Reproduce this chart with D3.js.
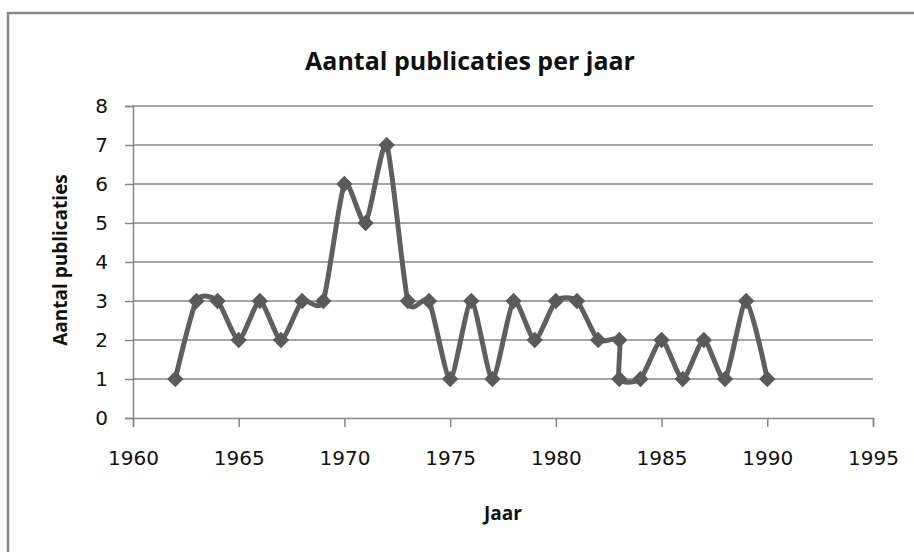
<!DOCTYPE html>
<html>
<head>
  <meta charset="utf-8">
  <script src="https://cdnjs.cloudflare.com/ajax/libs/d3/7.8.5/d3.min.js"></script>
  <title>Aantal publicaties per jaar</title>
  <style>
    body { margin: 0; background: #fff; }
    .tick text { font-family: "DejaVu Sans", sans-serif; font-size: 20px; fill: #111; }
    .lbl { font-family: "Open Sans", sans-serif; font-weight: bold; fill: #111; }
  </style>
</head>
<body>
<script>
// data
var years  = [1962, 1963, 1964, 1965, 1966, 1967, 1968, 1969, 1970, 1971, 1972, 1973, 1974, 1975, 1976,
              1977, 1978, 1979, 1980, 1981, 1982, 1983, 1983, 1984, 1985, 1986, 1987, 1988, 1989, 1990];
var counts = [1, 3, 3, 2, 3, 2, 3, 3, 6, 5, 7, 3, 3, 1, 3,
              1, 3, 2, 3, 3, 2, 2, 1, 1, 2, 1, 2, 1, 3, 1];
var xTicks = [1960, 1965, 1970, 1975, 1980, 1985, 1990, 1995];
var yTicks = [0, 1, 2, 3, 4, 5, 6, 7, 8];

var W = 914, H = 552;
var margin = {left: 133, right: 41, top: 106, bottom: 134};

var svg = d3.select("body").append("svg")
    .attr("width", W)
    .attr("height", H);

// chart area border (only top and left visible in the crop)
svg.append("path")
    .attr("d", "M8," + H + "V13H" + W)
    .attr("fill", "none")
    .attr("stroke", "#8a8a8a")
    .attr("stroke-width", 2.5);

var x = d3.scaleLinear().domain([1960, 1995]).range([margin.left, W - margin.right]);
var y = d3.scaleLinear().domain([0, 8]).range([H - margin.bottom, margin.top]);

// gridlines
svg.append("g")
  .selectAll("line")
  .data(yTicks.filter(d => d > 0))
  .enter().append("line")
    .attr("x1", x(1960)).attr("x2", x(1995))
    .attr("y1", d => y(d)).attr("y2", d => y(d))
    .attr("stroke", "#878787")
    .attr("stroke-width", 1.5);

var xAxis = d3.axisBottom(x).tickValues(xTicks).tickFormat(d3.format("d"))
    .tickSize(9).tickPadding(24);
var yAxis = d3.axisLeft(y).tickValues(yTicks).tickSize(8).tickPadding(17);

var gx = svg.append("g")
    .attr("transform", "translate(0," + y(0) + ")")
    .call(xAxis);
var gy = svg.append("g")
    .attr("transform", "translate(" + x(1960) + ",0)")
    .call(yAxis);

[gx, gy].forEach(function(g) {
  g.attr("font-family", null).attr("font-size", null);
  g.select(".domain").attr("stroke", "#878787").attr("stroke-width", 1.5);
  g.selectAll(".tick line").attr("stroke", "#878787").attr("stroke-width", 1.5);
});

// smoothed line like Excel
var pts = years.map((d, i) => [d, counts[i]]);
var line = d3.line()
    .x(d => x(d[0]))
    .y(d => y(d[1]))
    .curve(d3.curveCardinal.tension(0.35));

svg.append("path")
    .datum(pts)
    .attr("d", line)
    .attr("fill", "none")
    .attr("stroke", "#5f5f5f")
    .attr("stroke-width", 5)
    .attr("stroke-linejoin", "round");

svg.append("g")
  .selectAll("path")
  .data(pts)
  .enter().append("path")
    .attr("d", d3.symbol().type(d3.symbolDiamond2).size(170))
    .attr("transform", d => "translate(" + x(d[0]) + "," + y(d[1]) + ")")
    .attr("fill", "#5a5a5a");

// titles
svg.append("text")
    .attr("class", "lbl")
    .attr("x", 470).attr("y", 70)
    .attr("text-anchor", "middle")
    .attr("font-size", 25)
    .text("Aantal publicaties per jaar");

svg.append("text")
    .attr("class", "lbl")
    .attr("x", (x(1960) + x(1995)) / 2).attr("y", 520)
    .attr("text-anchor", "middle")
    .attr("font-size", 19)
    .text("Jaar");

svg.append("text")
    .attr("class", "lbl")
    .attr("transform", "translate(67," + (y(4) - 2) + ") rotate(-90)")
    .attr("text-anchor", "middle")
    .attr("font-size", 19)
    .text("Aantal publicaties");
</script>
</body>
</html>
